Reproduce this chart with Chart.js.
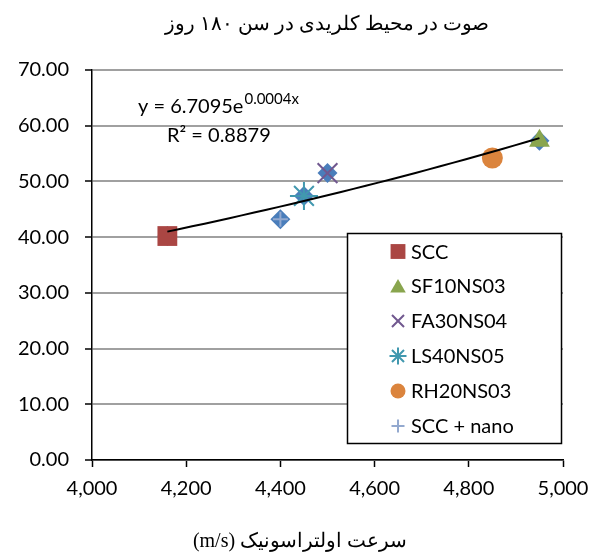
<!DOCTYPE html>
<html>
<head>
<meta charset="utf-8">
<script src="https://cdn.jsdelivr.net/npm/chart.js@4/dist/chart.umd.min.js"></script>
<style>
  html, body { margin: 0; padding: 0; background: #fff; }
  #wrap { width: 593px; height: 558px; }
</style>
</head>
<body>
<div id="wrap"><canvas id="chart" width="593" height="558"></canvas></div>
<script>
const titleText = "صوت در محیط کلریدی در سن ۱۸۰ روز";
const xTitleText = "سرعت اولتراسونیک (m/s)";

const seriesNames = ["SCC", "SF10NS03", "FA30NS04", "LS40NS05", "RH20NS03", "SCC + nano"];
const seriesX = [4160, 4950, 4500, 4450, 4850, 4400];
const seriesY = [40.2, 57.3, 51.5, 47.4, 54.2, 43.2];
const seriesColors = ["#AA4643", "#89A54E", "#71588F", "#4198AF", "#DB843D", "#93A9CF"];
const seriesStyles = ["rect", "triangle", "crossRot", "star", "circle", "cross"];

const equationText = "y = 6.7095e";
const equationExp = "0.0004x";
const r2Text = "R² = 0.8879";

const FONT = "Lato, 'Open Sans', sans-serif";
const FA_FONT = "'Liberation Serif', 'DejaVu Serif', serif";

// exponential trend fitted to all points (log-linear least squares)
function expTrend(xs, ys) {
  const n = xs.length;
  const ly = ys.map(Math.log);
  const mx = xs.reduce((a, b) => a + b, 0) / n;
  const my = ly.reduce((a, b) => a + b, 0) / n;
  let sxy = 0, sxx = 0;
  for (let i = 0; i < n; i++) {
    sxy += (xs[i] - mx) * (ly[i] - my);
    sxx += (xs[i] - mx) * (xs[i] - mx);
  }
  const b = sxy / sxx;
  const a = Math.exp(my - b * mx);
  const lo = Math.min(...xs), hi = Math.max(...xs);
  const pts = [];
  for (let i = 0; i <= 30; i++) {
    const x = lo + (hi - lo) * i / 30;
    pts.push({ x, y: a * Math.exp(b * x) });
  }
  return pts;
}

const allPoints = seriesX.map((x, i) => ({ x, y: seriesY[i] }));

const markerSize = { rect: 14, triangle: 12, crossRot: 14, star: 14, circle: 10.5, cross: 7.5 };
const legendSize = { rect: 10.5, triangle: 9, crossRot: 8.5, star: 8.5, circle: 7.5, cross: 6.5 };

const datasets = [
  {
    label: "trend",
    data: expTrend(seriesX, seriesY),
    type: "line",
    showLine: true,
    borderColor: "#000",
    borderWidth: 2,
    pointRadius: 0,
    tension: 0,
    order: 0,
  },
];

seriesNames.forEach((name, i) => {
  const style = seriesStyles[i];
  const stroked = style === "crossRot" || style === "star" || style === "cross";
  datasets.push({
    label: name,
    data: [{ x: seriesX[i], y: seriesY[i] }],
    pointStyle: style,
    pointRadius: markerSize[style],
    pointBackgroundColor: seriesColors[i],
    pointBorderColor: seriesColors[i],
    pointBorderWidth: stroked ? 2 : 0,
    order: 1,
  });
});

// blue diamond series behind everything (not in legend)
datasets.push({
  label: "all",
  data: allPoints,
  pointStyle: "rectRot",
  pointRadius: 10,
  pointBackgroundColor: "#4A7EBB",
  pointBorderWidth: 0,
  order: 2,
});

const decor = {
  id: "decor",
  afterDatasetsDraw(chart) {
    const ctx = chart.ctx;
    ctx.save();

    // equation
    ctx.fillStyle = "#000";
    ctx.textBaseline = "alphabetic";
    ctx.textAlign = "left";
    ctx.font = "20px " + FONT;
    ctx.fillText(equationText, 138, 113);
    const w = ctx.measureText(equationText).width;
    ctx.font = "15px " + FONT;
    ctx.fillText(equationExp, 138 + w + 1, 104);
    ctx.font = "20px " + FONT;
    ctx.fillText(r2Text, 167, 142);

    // legend box
    const bx = 347.5, by = 233.5, bw = 214, bh = 210;
    ctx.fillStyle = "#fff";
    ctx.fillRect(bx, by, bw, bh);
    ctx.strokeStyle = "#000";
    ctx.lineWidth = 1.5;
    ctx.strokeRect(bx, by, bw, bh);

    const rowY = [251.5, 286, 321, 356, 391, 426];
    seriesNames.forEach((name, i) => {
      const style = seriesStyles[i];
      ctx.fillStyle = seriesColors[i];
      ctx.strokeStyle = seriesColors[i];
      ctx.lineWidth = 2;
      const stroked = style === "crossRot" || style === "star" || style === "cross";
      Chart.helpers.drawPoint(ctx, {
        pointStyle: style,
        radius: legendSize[style],
        rotation: 0,
        borderWidth: stroked ? 2 : 0,
      }, 398, style === "triangle" ? rowY[i] + 2 : rowY[i]);
      ctx.fillStyle = "#000";
      ctx.font = "20px " + FONT;
      ctx.textAlign = "left";
      ctx.textBaseline = "middle";
      ctx.fillText(name, 411, rowY[i] + 1);
    });

    // titles
    ctx.fillStyle = "#000";
    ctx.textAlign = "center";
    ctx.textBaseline = "alphabetic";
    ctx.direction = "rtl";
    ctx.font = "20px " + FA_FONT;
    ctx.fillText(titleText, 327, 30);
    ctx.fillText(xTitleText, 300, 547);
    ctx.restore();
  },
};

new Chart(document.getElementById("chart"), {
  type: "scatter",
  data: { datasets },
  plugins: [decor],
  options: {
    responsive: false,
    animation: false,
    layout: { padding: { left: 0, right: 30, top: 70, bottom: 0 } },
    plugins: {
      legend: { display: false },
      title: { display: false },
      tooltip: { enabled: false },
    },
    scales: {
      x: {
        type: "linear",
        min: 4000,
        max: 5000,
        afterFit: (s) => { s.height = 98; s.paddingLeft = 0; s.paddingRight = 0; },
        ticks: {
          stepSize: 200,
          color: "#000",
          padding: 10,
          font: { family: FONT, size: 20 },
          callback: (v) => v.toLocaleString("en-US"),
        },
        grid: { drawOnChartArea: false, tickColor: "#000", tickLength: 7, tickWidth: 1.5 },
        border: { color: "#000", width: 1.5 },
      },
      y: {
        min: 0,
        max: 70,
        afterFit: (s) => { s.width = 92; s.paddingTop = 0; s.paddingBottom = 0; },
        ticks: {
          stepSize: 10,
          color: "#000",
          padding: 16,
          font: { family: FONT, size: 20 },
          callback: (v) => v.toFixed(2),
        },
        grid: { color: "#A0A0A0", lineWidth: 2, tickColor: "#000", tickLength: 7, tickWidth: 1.5 },
        border: { color: "#000", width: 1.5 },
      },
    },
  },
});
</script>
</body>
</html>
